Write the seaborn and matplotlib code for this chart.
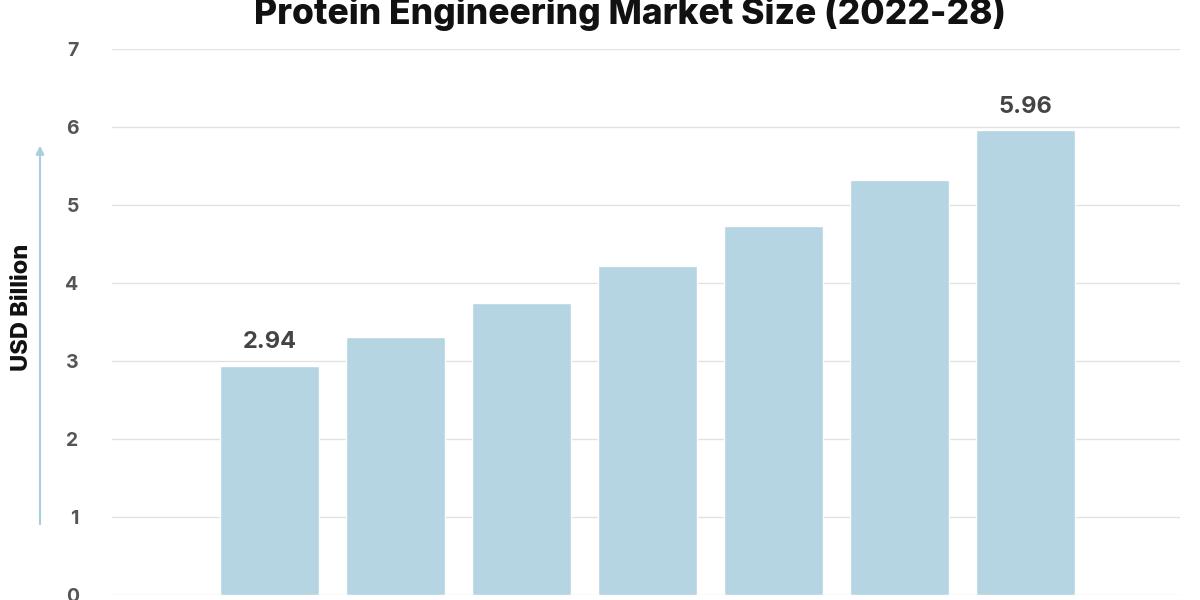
import matplotlib
matplotlib.use("Agg")
import matplotlib.pyplot as plt
import seaborn as sns
import pandas as pd

years = ["2022", "2023", "2024", "2025", "2026", "2027", "2028"]
market_size = [2.94, 3.31, 3.74, 4.22, 4.73, 5.32, 5.96]
labelled = {0: "2.94", 6: "5.96"}
y_ticks = [0, 1, 2, 3, 4, 5, 6, 7]

title = "Protein Engineering Market Size (2022-28)"
y_label = "USD Billion"

sns.set_theme(style="white")
plt.rcParams["font.family"] = ["Inter", "DejaVu Sans"]

df = pd.DataFrame({"year": years, "value": market_size})

fig = plt.figure(figsize=(12, 6), dpi=100)
ax = fig.add_axes([112 / 1200, 1 - 595 / 600, (1180 - 112) / 1200, (595 - 49) / 600])

sns.barplot(data=df, x="year", y="value", color="#b5d5e3", saturation=1,
            width=0.786, ax=ax, zorder=2)

ax.set_xlim(-1.25, 7.23)
ax.set_ylim(0, 7)
ax.set_yticks(y_ticks)
ax.set_yticklabels([str(t) for t in y_ticks], fontsize=14, color="#555555",
                   fontweight="bold")
ax.tick_params(axis="y", length=0, pad=24)
ax.set_xticks([])
ax.set_xlabel("")
ax.set_ylabel("")
ax.yaxis.grid(True, color="#e2e2e2", linewidth=1, zorder=0)
ax.set_axisbelow(True)
for s in ax.spines.values():
    s.set_visible(False)

for i, txt in labelled.items():
    ax.annotate(txt, (i, market_size[i]), xytext=(0, 9), textcoords="offset points",
                ha="center", va="bottom", fontsize=17, fontweight="bold",
                color="#444444")

fig.text(0.525, 1 - 24 / 600, title, ha="center", va="baseline",
         fontsize=25.5, fontweight="heavy", color="#111111")

fig.text(22 / 1200, 1 - 307 / 600, y_label, rotation=90, ha="center", va="center",
         fontsize=17, fontweight="heavy", color="#111111")

fig.patches.append(matplotlib.patches.FancyArrowPatch(
    (40 / 1200, 1 - 527 / 600), (40 / 1200, 1 - 143 / 600),
    transform=fig.transFigure, arrowstyle="-|>", mutation_scale=12,
    color="#a9cfdc", linewidth=1.5))

fig.savefig("out.png", dpi=100)
